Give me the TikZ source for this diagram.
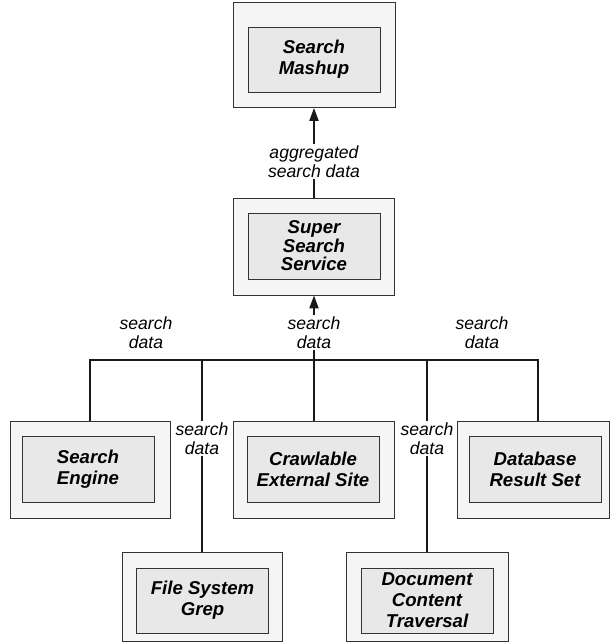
\documentclass[tikz,border=0pt]{standalone}
\usepackage{fontspec}
\setmainfont{Liberation Sans}
\usetikzlibrary{arrows.meta}

\begin{document}
\begin{tikzpicture}[x=1pt,y=-1pt,
        aussen/.style={draw=black!80,fill=black!4,line width=0.8pt,minimum width=160pt,minimum height=97pt,inner sep=0pt},
        innen/.style={draw=black!80,fill=black!9,line width=0.8pt,minimum width=132pt,minimum height=66pt,inner sep=0pt,align=center,font=\fontsize{18.6}{21}\selectfont\bfseries\itshape},
        fluss/.style={line width=2pt,draw=black!90},
        pfeil/.style={fluss,-{Triangle[length=13pt,width=9pt]}},
        etikett/.style={fill=white,inner sep=1.5pt,align=center,font=\fontsize{17.6}{19}\selectfont\itshape}]
        \useasboundingbox (0,0) rectangle (610,644);

        % Oberste Ebene
        \node[aussen,minimum width=162pt,minimum height=105pt] (mashup) at (314,55) {};
        \node[innen,minimum height=65pt] (mashup-in) at (314,59.5) {Search\\Mashup};

        % Zwischenebene
        \node[aussen,minimum width=161pt] (super) at (314,246.5) {};
        \node[innen,font=\fontsize{18.6}{18.5}\selectfont\bfseries\itshape] (super-in) at (314,246) {Super\\Search\\Service};

        % Quellen, erste Reihe
        \node[aussen] (engine) at (90,469.5) {};
        \node[innen] (engine-in) at (88,469.5) {Search\\Engine};
        \node[aussen,minimum width=161pt] (crawl) at (314,469.5) {};
        \node[innen] (crawl-in) at (313,469.5) {Crawlable\\External Site};
        \node[aussen,minimum width=152pt] (database) at (533,469.5) {};
        \node[innen] (database-in) at (535,469.5) {Database\\Result Set};

        % Quellen, zweite Reihe
        \node[aussen,minimum height=89pt] (grep) at (202,596.5) {};
        \node[innen,minimum height=65pt] (grep-in) at (202.5,600.5) {File System\\Grep};
        \node[aussen,minimum width=162pt,minimum height=89pt] (document) at (427,596.5) {};
        \node[innen,minimum height=65pt] (document-in) at (427,600.5) {Document\\Content\\Traversal};

        % Sammelleitung
        \coordinate (bus) at (314,360);
        \coordinate (bus-r) at (538,360);
        \draw[fluss] (engine.north) |- (bus-r) -- (bus-r |- database.north);
        \draw[fluss] (bus) -- (crawl.north);
        \draw[fluss] (grep.north |- bus) -- node[etikett,pos=0.41] {search\\data} (grep.north);
        \draw[fluss] (document.north |- bus) -- node[etikett,pos=0.41] {search\\data} (document.north);
        \node[etikett] (daten-l) at (146,333) {search\\data};
        \node[etikett] (daten-r) at (482,333) {search\\data};

        % Pfeile nach oben
        \draw[pfeil] (bus) -- node[etikett,pos=0.42] {search\\data} (super.south);
        \draw[pfeil] (super.north) -- node[etikett,pos=0.4] {aggregated\\search data} (mashup.south);
    \end{tikzpicture}
\end{document}
